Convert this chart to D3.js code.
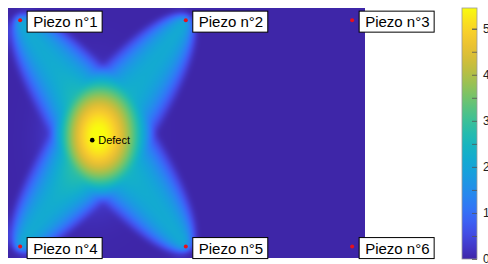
<!DOCTYPE html>
<html><head><meta charset="utf-8">
<script src="https://cdn.jsdelivr.net/npm/d3@7"></script>
<style>body{margin:0;background:#fff;overflow:hidden}svg{display:block}</style>
</head><body>
<svg id="chart" width="488" height="264"></svg>
<script>
// ---- data ----
const plateWidth = 500, plateHeight = 350;          // mm
const piezoNames = ["Piezo n°1","Piezo n°2","Piezo n°3","Piezo n°4","Piezo n°5","Piezo n°6"];
const piezoX = [17, 249, 482, 17, 249, 482];
const piezoY = [17, 17, 17, 334, 334, 334];
const pathPairs = [[0, 4], [1, 3]];                  // actuator-sensor paths affected by the defect
const pathAmplitude = [2.15, 2.15];                  // signal difference coefficient per path
const rapidBeta = 1.05;                              // RAPID ellipse size factor
const defectPos = [118, 185];
const defectSpread = [34, 50];                       // mm, local damage index spread
const defectAmplitude = 1.35;
const defectLabel = "Defect";
const colorbarTicks = [0, 1, 2, 3, 4, 5];
const colorbarMinorTicks = [0.5, 1.5, 2.5, 3.5, 4.5, 5];
const colorMax = 5.45;

// parula colormap anchors
const parulaStops = [
  [62,38,168],[71,75,237],[50,118,252],[30,150,228],[14,172,210],
  [30,188,176],[85,196,128],[155,194,80],[218,186,52],[253,200,48],[249,251,14]
];

// ---- layout ----
const svg = d3.select("#chart");
const x = d3.scaleLinear([0, plateWidth], [8, 365]);
const y = d3.scaleLinear([0, plateHeight], [8, 258]);
const interpParula = d3.interpolateRgbBasis(parulaStops.map(c => d3.rgb(...c)));
const color = d3.scaleSequential(interpParula).domain([0, colorMax]).clamp(true);

// ---- field (RAPID reconstruction) ----
const W = Math.round(x.range()[1] - x.range()[0]), H = Math.round(y.range()[1] - y.range()[0]);
let field = new Float32Array(W * H);
for (let j = 0; j < H; j++) {
  const py = y.invert(y.range()[0] + j + 0.5);
  for (let i = 0; i < W; i++) {
    const px = x.invert(x.range()[0] + i + 0.5);
    let v = 0;
    pathPairs.forEach(([a, b], k) => {
      const dab = Math.hypot(piezoX[a]-piezoX[b], piezoY[a]-piezoY[b]);
      const R = (Math.hypot(px-piezoX[a], py-piezoY[a]) + Math.hypot(px-piezoX[b], py-piezoY[b])) / dab;
      if (R < rapidBeta) v += pathAmplitude[k] * (rapidBeta - R) / (rapidBeta - 1);
    });
    const gx = (px - defectPos[0]) / defectSpread[0], gy = (py - defectPos[1]) / defectSpread[1];
    v += defectAmplitude * Math.exp(-0.5 * (gx * gx + gy * gy));
    field[j * W + i] = v;
  }
}
function boxBlur(src, r) {
  const tmp = new Float32Array(W * H), out = new Float32Array(W * H);
  for (let j = 0; j < H; j++) for (let i = 0; i < W; i++) {
    let s = 0, n = 0;
    for (let d = -r; d <= r; d++) { const ii = i + d; if (ii >= 0 && ii < W) { s += src[j*W+ii]; n++; } }
    tmp[j*W+i] = s / n;
  }
  for (let j = 0; j < H; j++) for (let i = 0; i < W; i++) {
    let s = 0, n = 0;
    for (let d = -r; d <= r; d++) { const jj = j + d; if (jj >= 0 && jj < H) { s += tmp[jj*W+i]; n++; } }
    out[j*W+i] = s / n;
  }
  return out;
}
field = boxBlur(boxBlur(field, 3), 3);

const canvas = document.createElement("canvas");
canvas.width = W; canvas.height = H;
const ctx = canvas.getContext("2d");
const img = ctx.createImageData(W, H);
for (let k = 0; k < W * H; k++) {
  const c = d3.rgb(color(field[k]));
  img.data[4*k] = c.r; img.data[4*k+1] = c.g; img.data[4*k+2] = c.b; img.data[4*k+3] = 255;
}
ctx.putImageData(img, 0, 0);
svg.append("image")
  .attr("x", x.range()[0]).attr("y", y.range()[0])
  .attr("width", W).attr("height", H)
  .attr("preserveAspectRatio", "none")
  .attr("href", canvas.toDataURL());

// ---- piezos ----
const piezos = piezoNames.map((n, i) => ({name: n, x: piezoX[i], y: piezoY[i]}));
const pg = svg.append("g").selectAll("g").data(piezos).join("g")
  .attr("transform", d => `translate(${x(d.x)},${y(d.y)})`);
pg.append("circle").attr("r", 2).attr("fill", "#e8101a");
pg.append("rect").attr("x", 7).attr("y", -9).attr("width", 75).attr("height", 21)
  .attr("fill", "#fff").attr("stroke", "#000").attr("stroke-width", 1);
pg.append("text").attr("x", 13).attr("y", 7)
  .attr("font-family", "Liberation Sans, Arial, sans-serif").attr("font-size", 15)
  .attr("fill", "#000").text(d => d.name);

// ---- defect ----
svg.append("circle").attr("cx", x(defectPos[0])).attr("cy", y(defectPos[1])).attr("r", 2.3).attr("fill", "#000");
svg.append("text").attr("x", x(defectPos[0]) + 6).attr("y", y(defectPos[1]) + 4)
  .attr("font-family", "Liberation Sans, Arial, sans-serif").attr("font-size", 11)
  .attr("fill", "#000").text(defectLabel);

// ---- colorbar ----
const cb = {x: 462, w: 15, top: 8, bottom: 259};
const cScale = d3.scaleLinear([0, colorMax], [cb.bottom, cb.top]);
const defs = svg.append("defs");
const grad = defs.append("linearGradient").attr("id", "cbgrad")
  .attr("x1", 0).attr("y1", 1).attr("x2", 0).attr("y2", 0);
d3.range(0, 1.0001, 0.05).forEach(t => grad.append("stop").attr("offset", t).attr("stop-color", interpParula(t)));
svg.append("rect").attr("x", cb.x).attr("y", cb.top).attr("width", cb.w).attr("height", cb.bottom - cb.top)
  .attr("fill", "url(#cbgrad)").attr("stroke", "#9a9a9a").attr("stroke-width", 0.8);
const minorAxis = svg.append("g").attr("transform", `translate(${cb.x + cb.w},0)`)
  .call(d3.axisRight(cScale).tickValues(colorbarMinorTicks).tickSize(-5).tickFormat(""));
minorAxis.select(".domain").remove();
minorAxis.selectAll("line").attr("stroke", "#555").attr("stroke-width", 0.8);
const majorAxis = svg.append("g").attr("transform", `translate(${cb.x + cb.w},0)`)
  .call(d3.axisRight(cScale).tickValues(colorbarTicks).tickSize(-5).tickPadding(6).tickFormat(d3.format("d")));
majorAxis.select(".domain").remove();
majorAxis.selectAll("line").attr("stroke", "#555").attr("stroke-width", 0.8);
majorAxis.selectAll("text").attr("font-family", "Liberation Sans, Arial, sans-serif").attr("font-size", 12).attr("fill", "#222");
</script>
</body></html>
